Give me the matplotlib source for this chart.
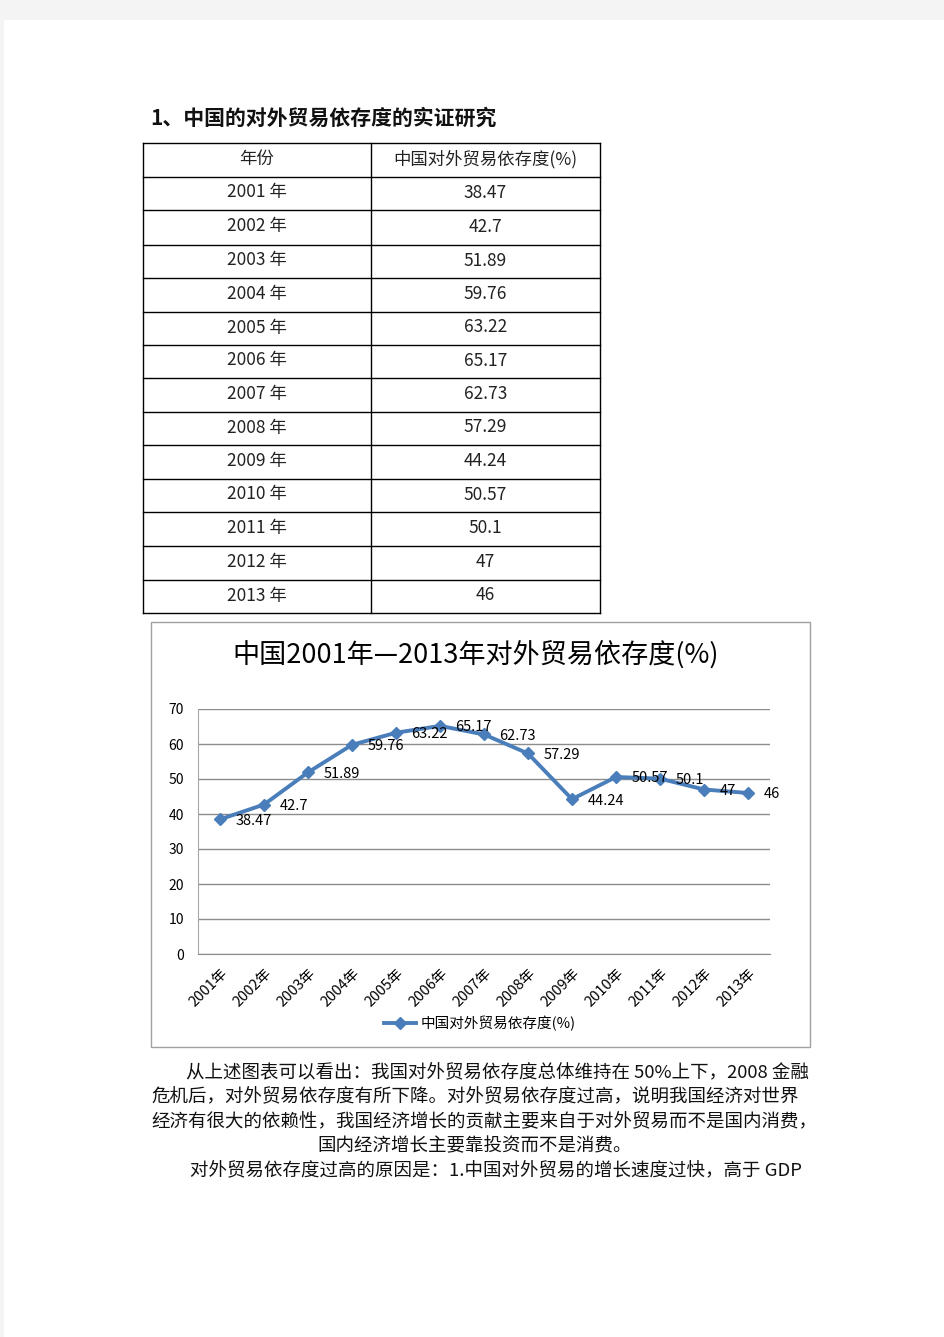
import matplotlib
matplotlib.use('Agg')
import matplotlib.pyplot as plt
from matplotlib.patches import Rectangle

plt.rcParams['font.family'] = ['Noto Sans CJK SC', 'DejaVu Sans']

# data
years = ['2001', '2002', '2003', '2004', '2005', '2006', '2007',
         '2008', '2009', '2010', '2011', '2012', '2013']
values = [38.47, 42.7, 51.89, 59.76, 63.22, 65.17, 62.73,
          57.29, 44.24, 50.57, 50.1, 47, 46]
value_text = ['38.47', '42.7', '51.89', '59.76', '63.22', '65.17', '62.73',
              '57.29', '44.24', '50.57', '50.1', '47', '46']
yticks = [0, 10, 20, 30, 40, 50, 60, 70]

heading = '1、中国的对外贸易依存度的实证研究'
table_header = ['年份', '中国对外贸易依存度(%)']
chart_title = '中国2001年—2013年对外贸易依存度(%)'
series_name = '中国对外贸易依存度(%)'
paragraph = [
    '从上述图表可以看出：我国对外贸易依存度总体维持在 50%上下，2008 金融',
    '危机后，对外贸易依存度有所下降。对外贸易依存度过高，说明我国经济对世界',
    '经济有很大的依赖性，我国经济增长的贡献主要来自于对外贸易而不是国内消费，',
    '国内经济增长主要靠投资而不是消费。',
    '对外贸易依存度过高的原因是：1.中国对外贸易的增长速度过快，高于 GDP',
]

W, H = 945, 1337
fig = plt.figure(figsize=(W / 100, H / 100), dpi=100)
fig.patch.set_facecolor('#f4f4f4')

# page layer in pixel coordinates
page = fig.add_axes([0, 0, 1, 1])
page.set_xlim(0, W)
page.set_ylim(H, 0)
page.axis('off')
page.add_patch(Rectangle((4, 20), W - 4, H - 20, facecolor='white', edgecolor='none'))

page.text(150, 118, heading, fontsize=15, fontweight='bold', va='center', ha='left', color='#111111')

# table
tx0, tx1, tmid = 143, 600, 371
row_edges = [143, 177, 210, 245, 278, 312, 345, 378, 412, 445, 479, 512, 546, 580, 613]
for y in row_edges:
    page.plot([tx0, tx1], [y, y], color='black', lw=1)
for x in (tx0, tmid, tx1):
    page.plot([x, x], [row_edges[0], row_edges[-1]], color='black', lw=1)
rows = [table_header] + [[y + ' 年', v] for y, v in zip(years, value_text)]
for i, (a, b) in enumerate(rows):
    yc = (row_edges[i] + row_edges[i + 1]) / 2 - 1
    page.text((tx0 + tmid) / 2, yc, a, fontsize=12.5, ha='center', va='center', color='#222222')
    page.text((tmid + tx1) / 2, yc, b, fontsize=12.5, ha='center', va='center', color='#222222')

# chart frame
page.add_patch(Rectangle((151, 622), 659, 425, facecolor='white', edgecolor='#a0a0a0', lw=1))
page.text(476, 655, chart_title, fontsize=19.5, ha='center', va='center', color='black')

# chart axes
ax = fig.add_axes([198 / W, (H - 954) / H, 572 / W, 245 / H])
ax.set_facecolor('none')
x = list(range(len(years)))
ax.plot(x, values, color='#4a7ebb', lw=2.8, marker='D', markersize=6.5,
        label=series_name)
for xi, v, t in zip(x, values, value_text):
    ax.annotate(t, (xi, v), xytext=(11, -1), textcoords='offset points',
                ha='left', va='center', fontsize=10.5, color='black')
ax.set_xlim(-0.5, len(years) - 0.5)
ax.set_ylim(0, 70)
ax.set_yticks(yticks)
ax.set_yticklabels([str(t) for t in yticks], fontsize=10)
ax.set_xticks(x)
ax.set_xticklabels([y + '年' for y in years], rotation=45, ha='right',
                   rotation_mode='anchor', fontsize=10.5)
ax.tick_params(length=0, pad=10)
ax.tick_params(axis='x', pad=9)
ax.grid(axis='y', color='#8c8c8c', lw=1)
ax.set_axisbelow(True)
for s in ('top', 'right'):
    ax.spines[s].set_visible(False)
ax.spines['left'].set_color('#a6a6a6')
ax.spines['bottom'].set_color('#8c8c8c')
ax.legend(loc='center', bbox_to_anchor=(480 / W, 1 - 1023 / H),
          bbox_transform=fig.transFigure, frameon=False, fontsize=10.5,
          handlelength=2.2, handletextpad=0.3)

# paragraph below the chart
para_pos = [(186, 1073, 'left'), (151, 1097, 'left'), (151, 1122, 'left'),
            (475, 1146, 'center'), (190, 1171, 'left')]
for (px, py, ha), line in zip(para_pos, paragraph):
    page.text(px, py, line, fontsize=13.3, ha=ha, va='center', color='#111111')

fig.savefig('out.png', dpi=100, facecolor=fig.get_facecolor())
